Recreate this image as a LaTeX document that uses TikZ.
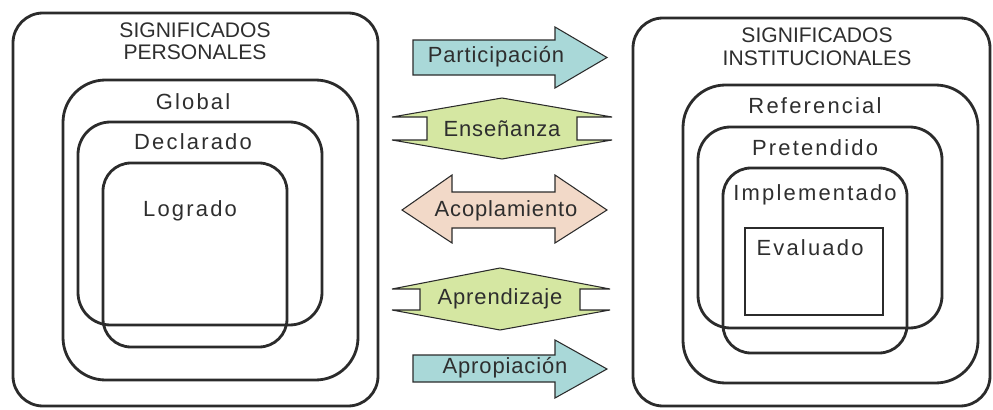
\documentclass[tikz,border=0pt]{standalone}
\usepackage{fontspec}
\setmainfont{Liberation Sans}
\definecolor{teal1}{HTML}{A9D8D8}
\definecolor{green1}{HTML}{D5E7A2}
\definecolor{peach1}{HTML}{F2D9C8}
\definecolor{ink}{HTML}{2B2B2B}
\definecolor{txt}{HTML}{2E2E2E}
\tikzset{
  bigbox/.style={draw=ink, line width=1.6pt},
  arrowshape/.style={draw=ink, line width=0.6pt},
  capslbl/.style={text=txt, font=\fontsize{12}{13}\selectfont, inner sep=0pt},
  lbl/.style={text=txt, font=\fontsize{12.5}{13}\selectfont\addfontfeature{LetterSpace=10}, inner sep=0pt},
  albl/.style={text=txt, font=\fontsize{12.5}{13}\selectfont\addfontfeature{LetterSpace=4}, inner sep=0pt},
}
\begin{document}
\begin{tikzpicture}[x=0.02cm,y=-0.02cm]
\useasboundingbox (0,0) rectangle (993,409);
% left group
\draw[bigbox, rounded corners=0.6cm] (13,13) rectangle (378,406);
\draw[bigbox, rounded corners=0.85cm] (63,80) rectangle (358,380);
\draw[bigbox, rounded corners=0.65cm] (78,122) rectangle (322,325);
\draw[bigbox, rounded corners=0.56cm] (103,163) rectangle (287,347);
\node[capslbl] (sp1) at (195,30) {SIGNIFICADOS};
\node[capslbl] (sp2) at (195,52) {PERSONALES};
\node[lbl] (glob) at (193,102) {Global};
\node[lbl] (decl) at (193,142) {Declarado};
\node[lbl] (logr) at (190,211) {Logrado};
% right group
\draw[bigbox, rounded corners=0.6cm] (633,18) rectangle (990,406);
\draw[bigbox, rounded corners=0.85cm] (683,85) rectangle (978,383);
\draw[bigbox, rounded corners=0.65cm] (698,127) rectangle (942,328);
\draw[bigbox, rounded corners=0.56cm] (723,168) rectangle (907,353);
\draw[draw=ink, line width=0.8pt] (745,228) rectangle (883,315);
\node[capslbl] (si1) at (817,35) {SIGNIFICADOS};
\node[capslbl] (si2) at (817,58) {INSTITUCIONALES};
\node[lbl] (refe) at (815,106) {Referencial};
\node[lbl] (pret) at (815,148) {Pretendido};
\node[lbl] (impl) at (815,195) {Implementado};
\node[lbl] (eval) at (810,248) {Evaluado};
% Participacion arrow
\draw[arrowshape, fill=teal1] (413,40) -- (555,40) -- (555,27) -- (607,57.5) -- (555,88) -- (555,75) -- (413,75) -- cycle;
\node[albl] (part) at (496,57) {Participación};
% Ensenanza
\draw[arrowshape, fill=green1] (502,98) -- (612,117) -- (577,117) -- (577,140) -- (612,140) -- (502,159) -- (392,140) -- (427,140) -- (427,117) -- (392,117) -- cycle;
\node[albl] (ense) at (502,129) {Enseñanza};
% Acoplamiento
\draw[arrowshape, fill=peach1] (402,210) -- (452,175) -- (452,192) -- (555,192) -- (555,175) -- (607,210) -- (555,243) -- (555,228) -- (452,228) -- (452,243) -- cycle;
\node[albl] (acop) at (506,211) {Acoplamiento};
% Aprendizaje
\draw[arrowshape, fill=green1] (500,268) -- (610,289) -- (580,289) -- (580,310) -- (610,310) -- (500,330) -- (392,310) -- (420,310) -- (420,289) -- (392,289) -- cycle;
\node[albl] (apre) at (500,299) {Aprendizaje};
% Apropiacion
\draw[arrowshape, fill=teal1] (413,355) -- (555,355) -- (555,340) -- (607,369) -- (555,398) -- (555,382) -- (413,382) -- cycle;
\node[albl] (apro) at (505,368) {Apropiación};
\end{tikzpicture}
\end{document}
